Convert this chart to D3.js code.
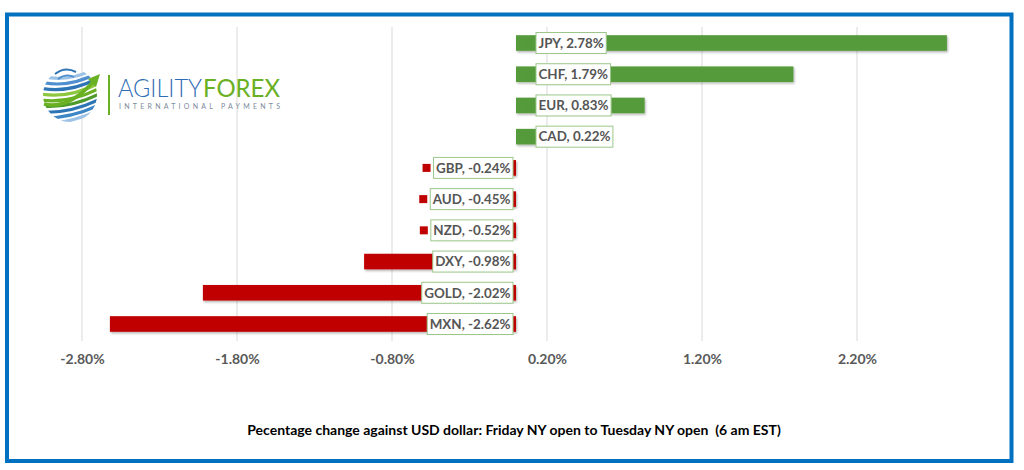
<!DOCTYPE html>
<html><head><meta charset="utf-8">
<script src="https://cdn.jsdelivr.net/npm/d3@7"></script>
<style>body{margin:0;background:#fff}svg{display:block}</style>
</head><body><svg id="c" width="1024" height="470"></svg>
<script>
const categories = ["JPY","CHF","EUR","CAD","GBP","AUD","NZD","DXY","GOLD","MXN"];
const values = [2.78,1.79,0.83,0.22,-0.24,-0.45,-0.52,-0.98,-2.02,-2.62];
const tickValues = [-2.8,-1.8,-0.8,0.2,1.2,2.2];
const titleText = "Pecentage change against USD dollar: Friday NY open to Tuesday NY open\u00a0\u00a0(6 am EST)";

const FONT = "Lato, 'Open Sans', sans-serif";
const svg = d3.select("#c");
const defs = svg.append("defs");
const sh = defs.append("filter").attr("id","sh").attr("x","-5%").attr("y","-30%").attr("width","115%").attr("height","170%");
sh.append("feDropShadow").attr("dx",1).attr("dy",1.5).attr("stdDeviation",1).attr("flood-color","#000").attr("flood-opacity",0.3);

svg.append("rect").attr("width",1024).attr("height",470).attr("fill","#fff");
svg.append("rect").attr("x",7).attr("y",14.5).attr("width",1004.5).attr("height",446.5)
  .attr("fill","#fff").attr("stroke","#0070c0").attr("stroke-width",4);

const x = d3.scaleLinear().domain([-2.8, 2.2]).range([82, 857]);
const y = d3.scaleBand().domain(categories).range([27.4, 339.6]).paddingInner(0.5).paddingOuter(0.25);

// gridlines
svg.append("g").selectAll("line").data(tickValues).join("line")
  .attr("x1",d=>x(d)).attr("x2",d=>x(d)).attr("y1",27).attr("y2",341)
  .attr("stroke","#d9d9d9").attr("stroke-width",1);

// axis labels
const axis = d3.axisBottom(x).tickValues(tickValues).tickFormat(d=>d.toFixed(2)+"%").tickSize(0).tickPadding(0);
const ag = svg.append("g").attr("transform","translate(0,354)").call(axis);
ag.select(".domain").remove();
ag.selectAll("text").attr("fill","#595959").attr("font-family",FONT).attr("font-weight","bold").attr("font-size","14px").attr("dy","0.72em");

// logo
const logo = svg.append("g");
defs.append("clipPath").attr("id","gc").append("circle").attr("cx",70).attr("cy",95).attr("r",27);
const gl = logo.append("g").attr("clip-path","url(#gc)");
const stripeCols = ["#9cc3e6","#4f8fcf","#2e75b6","#8dc63f","#6ab023","#4f9a2c","#2e75b6","#3d86c6","#9cc3e6"];
stripeCols.forEach((c,i)=>{
  const yy = 72 + i*6;
  gl.append("path").attr("d",`M40,${yy+4} Q70,${yy+12-i} 100,${yy-6-i*0.5}`)
    .attr("fill","none").attr("stroke",c).attr("stroke-width",3.2).attr("stroke-linecap","round");
});
logo.append("path").attr("d","M55,74 Q65,66 76,72").attr("fill","none").attr("stroke","#2e75b6").attr("stroke-width",2);
logo.append("path").attr("d","M58,79 Q66,73 74,77").attr("fill","none").attr("stroke","#4f8fcf").attr("stroke-width",1.6);
logo.append("path").attr("d","M44,104 Q68,110 93,82").attr("fill","none").attr("stroke","#6ab023").attr("stroke-width",3.5);
logo.append("path").attr("d","M88,79 L100,74 L96,87 Z").attr("fill","#6ab023");
logo.append("rect").attr("x",108).attr("y",75).attr("width",2).attr("height",40).attr("fill","#6ab023");
logo.append("text").attr("x",118).attr("y",97).text("AGILITY")
  .attr("font-family",FONT).attr("font-weight",300).attr("font-size",25).attr("fill","#2e6db4")
  .attr("textLength",84).attr("lengthAdjust","spacingAndGlyphs");
logo.append("text").attr("x",203).attr("y",97).text("FOREX")
  .attr("font-family",FONT).attr("font-weight",400).attr("font-size",25).attr("fill","#6ab023")
  .attr("textLength",77).attr("lengthAdjust","spacingAndGlyphs");
logo.append("text").attr("x",119).attr("y",108.5).text("INTERNATIONAL PAYMENTS")
  .attr("font-family",FONT).attr("font-size",7).attr("fill","#7d8a99")
  .attr("textLength",161).attr("lengthAdjust","spacing");

// bars
const data = categories.map((c,i)=>({c, v: values[i]}));
const colorOf = v => v >= 0 ? "#559a3a" : "#c00000";
svg.append("g").selectAll("rect").data(data).join("rect")
  .attr("x",d=>Math.min(x(0),x(d.v))).attr("width",d=>Math.abs(x(d.v)-x(0)))
  .attr("y",d=>y(d.c)).attr("height",y.bandwidth())
  .attr("fill",d=>colorOf(d.v)).attr("filter","url(#sh)");

// labels
const lg = svg.append("g");
data.forEach(d=>{
  const cy = y(d.c) + y.bandwidth()/2;
  const g = lg.append("g");
  const key = g.append("rect").attr("width",8).attr("height",8).attr("y",cy-4).attr("fill",colorOf(d.v));
  const box = g.append("rect").attr("y",cy-10.5).attr("height",21).attr("fill","#fff").attr("stroke","#9cc78a").attr("stroke-width",1);
  const t = g.append("text").text(`${d.c}, ${d.v.toFixed(2)}%`)
    .attr("font-family",FONT).attr("font-weight","bold").attr("font-size","13.4px").attr("fill","#555")
    .attr("y",cy).attr("dy","0.36em");
  const w = t.node().getComputedTextLength();
  const bw = w + 5;
  let bx;
  if (d.v >= 0) bx = x(0) + 20; else bx = x(0) - 3 - bw;
  box.attr("x",bx).attr("width",bw);
  t.attr("x",bx+2.5);
  key.attr("x",bx-11);
});

// title
svg.append("text").attr("x",514).attr("y",430).attr("dy","0.35em").attr("text-anchor","middle")
  .attr("font-family",FONT).attr("font-weight","bold").attr("font-size","14px").attr("fill","#000")
  .text(titleText);
</script></body></html>
